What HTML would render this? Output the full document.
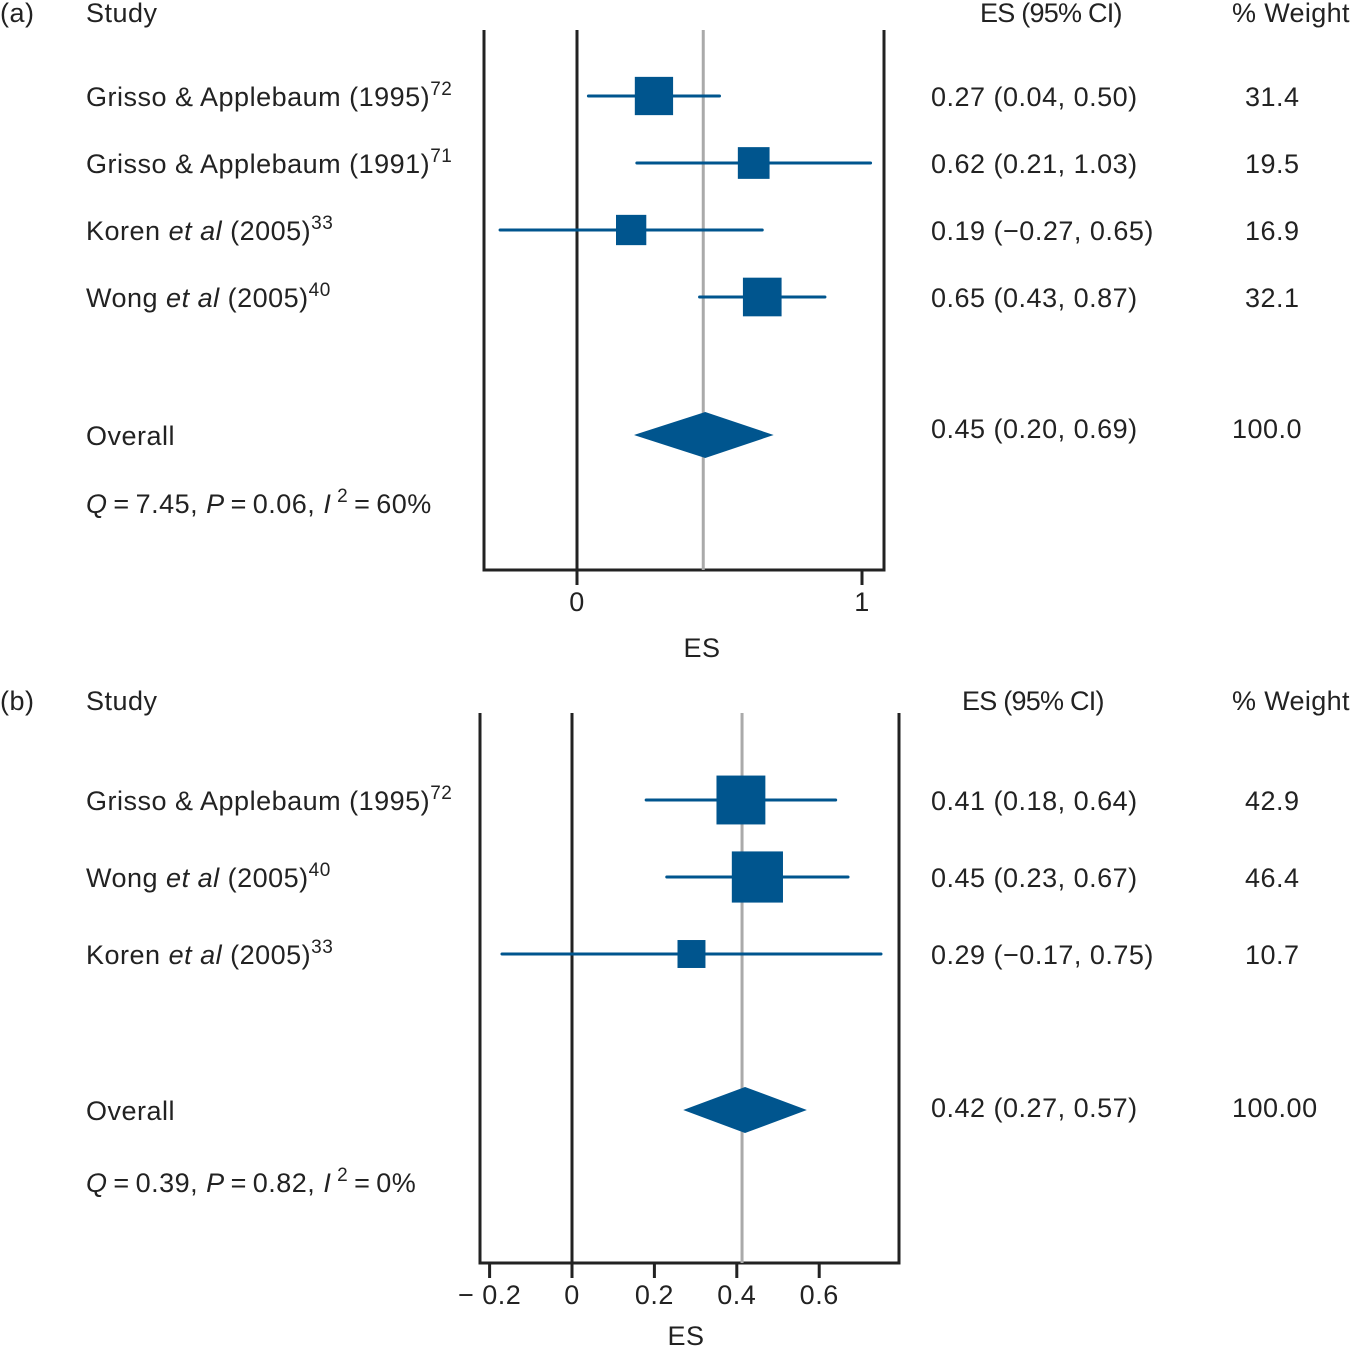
<!DOCTYPE html>
<html><head><meta charset="utf-8"><style>
html,body{margin:0;padding:0;background:#fff;}
svg{display:block;font-family:"Liberation Sans",sans-serif;}
text{fill:#222;font-size:27px;letter-spacing:0.5px;}
</style></head><body>
<svg id="chart" width="1350" height="1347" viewBox="0 0 1350 1347" xmlns="http://www.w3.org/2000/svg"></svg>
<script>
// Panel (a) data
const aStudies = ["Grisso & Applebaum (1995)", "Grisso & Applebaum (1991)", "Koren et al (2005)", "Wong et al (2005)"];
const aRefs = ["72", "71", "33", "40"];
const aES = [0.27, 0.62, 0.19, 0.65];
const aLo = [0.04, 0.21, -0.27, 0.43];
const aHi = [0.50, 1.03, 0.65, 0.87];
const aWeight = ["31.4", "19.5", "16.9", "32.1"];
const aWeightNum = [31.4, 19.5, 16.9, 32.1];
const aOverall = [0.45, 0.20, 0.69];
const aOverallWeight = "100.0";
const aTicks = [0, 1];
const aTickLabels = ["0", "1"];
// Panel (b) data
const bStudies = ["Grisso & Applebaum (1995)", "Wong et al (2005)", "Koren et al (2005)"];
const bRefs = ["72", "40", "33"];
const bES = [0.41, 0.45, 0.29];
const bLo = [0.18, 0.23, -0.17];
const bHi = [0.64, 0.67, 0.75];
const bWeight = ["42.9", "46.4", "10.7"];
const bWeightNum = [42.9, 46.4, 10.7];
const bOverall = [0.42, 0.27, 0.57];
const bOverallWeight = "100.00";
const bTicks = [-0.2, 0, 0.2, 0.4, 0.6];
const bTickLabels = ["\u2212 0.2", "0", "0.2", "0.4", "0.6"];

const NS = "http://www.w3.org/2000/svg";
const svg = document.getElementById("chart");
const BLUE = "#00558e";
function mk(tag, attrs, parent) {
  const e = document.createElementNS(NS, tag);
  for (const k in attrs) e.setAttribute(k, attrs[k]);
  (parent || svg).appendChild(e);
  return e;
}
function fmt(v) { return (v < 0 ? "\u2212" : "") + Math.abs(v).toFixed(2); }

function panel(cfg) {
  const g = mk("g", {});
  
  
  const x = v => cfg.x0 + v * cfg.scale;
  const pl = mk("text", {x: 0, y: cfg.headY}, g); pl.textContent = cfg.label;
  
  
  const st = mk("text", {x: 86, y: cfg.headY}, g); st.textContent = "Study";
  
  
  const eh = mk("text", {x: cfg.esHeadX, y: cfg.headY, textLength: 143}, g); eh.textContent = "ES (95% CI)";
  
  
  const wh = mk("text", {x: cfg.wHeadX, y: cfg.headY, textLength: 118}, g); wh.textContent = "% Weight";
  
  
  const fr = mk("path", {d: `M${cfg.fl},${cfg.ft} V${cfg.fb} H${cfg.fr} V${cfg.ft}`, fill: "none", stroke: "#222", "stroke-width": 3}, g);
  
  
  const zl = mk("line", {x1: x(0), x2: x(0), y1: cfg.ft, y2: cfg.fb, stroke: "#222", "stroke-width": 3}, g);
  
  
  const ol = mk("line", {x1: x(cfg.overall[0]) + cfg.olShift, x2: x(cfg.overall[0]) + cfg.olShift, y1: cfg.ft, y2: cfg.fb, stroke: "#aaa", "stroke-width": 3}, g);
  
  
  cfg.ticks.forEach((t, i) => {
    const tk = mk("line", {x1: x(t), x2: x(t), y1: cfg.fb, y2: cfg.fb + 15, stroke: "#222", "stroke-width": 3}, g);
    
    
    const tl = mk("text", {x: x(t), y: cfg.fb + 41, "text-anchor": "middle"}, g);
    tl.textContent = cfg.tickLabels[i];
    
    
  });
  const xt = mk("text", {x: cfg.esX, y: cfg.fb + cfg.esDy, "text-anchor": "middle"}, g); xt.textContent = "ES";
  
  
  cfg.studies.forEach((s, i) => {
    const y = cfg.rowY[i];
    const lab = mk("text", {x: 86, y: y + 10}, g);
    
    
    const m = s.match(/^(.*?)( et al )(.*)$/);
    if (m) {
      const a = mk("tspan", {}, lab); a.textContent = m[1] + " ";
      const b = mk("tspan", {"font-style": "italic"}, lab); b.textContent = "et al";
      const c = mk("tspan", {}, lab); c.textContent = " " + m[3];
    } else {
      const a = mk("tspan", {}, lab); a.textContent = s;
    }
    const sup = mk("tspan", {"font-size": 19, dy: -11}, lab); sup.textContent = cfg.refs[i];
    const ci = mk("line", {x1: x(cfg.lo[i]), x2: x(cfg.hi[i]), y1: y, y2: y, stroke: BLUE, "stroke-width": 3, "stroke-linecap": "round"}, g);
    
    
    const sz = cfg.sizeA + cfg.sizeB * cfg.wnum[i];
    const sq = mk("rect", {x: x(cfg.es[i]) - sz / 2, y: y - sz / 2, width: sz, height: sz, fill: BLUE}, g);
    
    
    const et = mk("text", {x: 931, y: y + 10}, g);
    et.textContent = cfg.es[i].toFixed(2) + " (" + fmt(cfg.lo[i]) + ", " + fmt(cfg.hi[i]) + ")";
    
    
    const wt = mk("text", {x: 1245, y: y + 10}, g); wt.textContent = cfg.weight[i];
    
    
  });
  const oy = cfg.overallY;
  const ov = mk("text", {x: 86, y: oy + 10}, g); ov.textContent = "Overall";
  
  
  const dm = mk("polygon", {points: `${x(cfg.overall[1])},${oy} ${x(cfg.overall[0])},${oy - cfg.dh} ${x(cfg.overall[2])},${oy} ${x(cfg.overall[0])},${oy + cfg.dh}`, fill: BLUE}, g);
  
  
  const oe = mk("text", {x: 931, y: cfg.overallTextY}, g);
  oe.textContent = cfg.overall[0].toFixed(2) + " (" + fmt(cfg.overall[1]) + ", " + fmt(cfg.overall[2]) + ")";
  
  
  const ow = mk("text", {x: 1232, y: cfg.overallTextY}, g); ow.textContent = cfg.overallWeight;
  
  
  const ht = mk("text", {x: 86, y: cfg.hetY}, g);
  
  
  const parts = [["Q", 1], ["\u2009=\u2009" + cfg.het[0] + ", ", 0], ["P", 1], ["\u2009=\u2009" + cfg.het[1] + ", ", 0], ["I", 1]];
  parts.forEach(p => { const t = mk("tspan", p[1] ? {"font-style": "italic"} : {}, ht); t.textContent = p[0]; });
  const s2 = mk("tspan", {"font-size": 19, dy: -11}, ht); s2.textContent = " 2";
  const rest = mk("tspan", {dy: 11}, ht); rest.textContent = "\u2009=\u2009" + cfg.het[2];
}

panel({name: "panel-a", label: "(a)", headY: 22, esHeadX: 980, wHeadX: 1232,
  x0: 577, scale: 285, fl: 484, fr: 884, ft: 30, fb: 570, esX: 702, esDy: 87, olShift: -2,
  studies: aStudies, refs: aRefs, es: aES, lo: aLo, hi: aHi, weight: aWeight, wnum: aWeightNum,
  rowY: [96, 163, 230, 297], sizeA: 21, sizeB: 0.55,
  overall: aOverall, overallWeight: aOverallWeight, overallY: 435, dh: 23, overallTextY: 438,
  ticks: aTicks, tickLabels: aTickLabels, hetY: 513, het: ["7.45", "0.06", "60%"]});

panel({name: "panel-b", label: "(b)", headY: 710, esHeadX: 962, wHeadX: 1232,
  x0: 572, scale: 412, fl: 480, fr: 899, ft: 713, fb: 1263, esX: 686, esDy: 82, olShift: -3,
  studies: bStudies, refs: bRefs, es: bES, lo: bLo, hi: bHi, weight: bWeight, wnum: bWeightNum,
  rowY: [800, 877, 954], sizeA: 21, sizeB: 0.65,
  overall: bOverall, overallWeight: bOverallWeight, overallY: 1110, dh: 23, overallTextY: 1117,
  ticks: bTicks, tickLabels: bTickLabels, hetY: 1192, het: ["0.39", "0.82", "0%"]});
</script>
</body></html>
